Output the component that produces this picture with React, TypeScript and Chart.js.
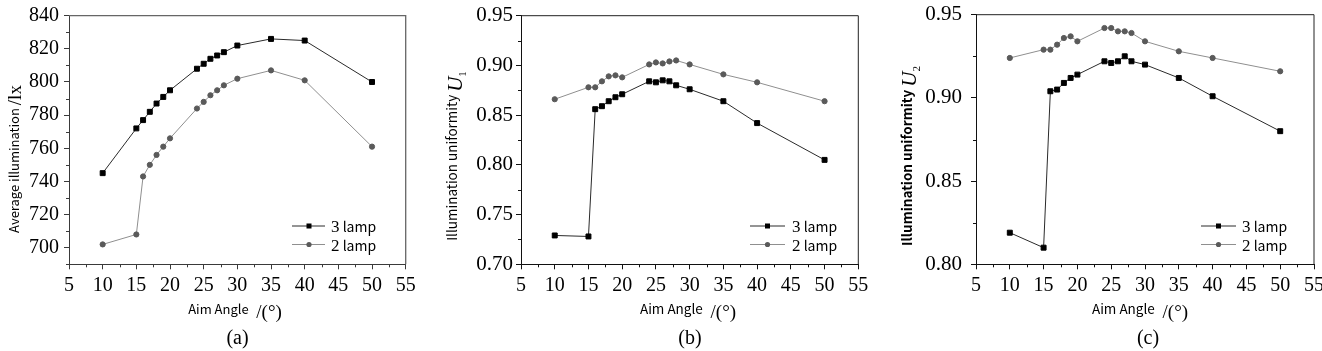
import React, { useEffect, useRef } from 'react';
import { Chart, registerables } from 'chart.js';

Chart.register(...registerables);

// ---------------- data ----------------
const aimAngles = [10, 15, 16, 17, 18, 19, 20, 24, 25, 26, 27, 28, 30, 35, 40, 50];
const avgIllum3Lamp = [745, 772, 777, 782, 787, 791, 795, 808, 811, 814, 816, 818, 822, 826, 825, 800];
const avgIllum2Lamp = [702, 708, 743, 750, 756, 761, 766, 784, 788, 792, 795, 798, 802, 807, 801, 761];
const u1ThreeLamp = [0.729, 0.728, 0.856, 0.859, 0.864, 0.868, 0.871, 0.884, 0.883, 0.885, 0.884, 0.880, 0.876, 0.864, 0.842, 0.805];
const u1TwoLamp = [0.866, 0.878, 0.878, 0.884, 0.889, 0.890, 0.888, 0.901, 0.903, 0.902, 0.904, 0.905, 0.901, 0.891, 0.883, 0.864];
const u2ThreeLamp = [0.819, 0.810, 0.904, 0.905, 0.909, 0.912, 0.914, 0.922, 0.921, 0.922, 0.925, 0.922, 0.920, 0.912, 0.901, 0.880];
const u2TwoLamp = [0.924, 0.929, 0.929, 0.932, 0.936, 0.937, 0.934, 0.942, 0.942, 0.940, 0.940, 0.939, 0.934, 0.928, 0.924, 0.916];

const seriesNumbers = ['3', '2'];
const seriesWord = ' lamp';

const xTicks = [5, 10, 15, 20, 25, 30, 35, 40, 45, 50, 55];
const xMinorTicks = [7.5, 12.5, 17.5, 22.5, 27.5, 32.5, 37.5, 42.5, 47.5, 52.5];
const yTicksA = [700, 720, 740, 760, 780, 800, 820, 840];
const yMinorA = [690, 710, 730, 750, 770, 790, 810, 830];
const yTicksB = [0.7, 0.75, 0.8, 0.85, 0.9, 0.95];
const yMinorB = [0.725, 0.775, 0.825, 0.875, 0.925];
const yTicksC = [0.8, 0.85, 0.9, 0.95];
const yMinorC = [0.825, 0.875, 0.925];

const xTitleText = 'Aim Angle ';
const xTitleUnit = ' /(°)';
const yTitleA = 'Average illumination ';
const yUnitA = '/lx';
const yTitleU = 'Illumination uniformity ';

// ---------------- style ----------------
const H = 351;
const SERIF = '"Liberation Serif", "Times New Roman", serif';
const SANS = '"Noto Sans CJK SC", "Noto Sans", sans-serif';
const LINE3 = '#2a2a2a';
const LINE2 = '#8f8f8f';
const MARK3 = '#000000';
const MARK2 = '#5a5a5a';

type Seg = { t: string; font: string; dy?: number };

function drawSegs(ctx: CanvasRenderingContext2D, segs: Seg[], x: number, y: number, rotate: boolean, align: 'center' | 'left') {
  ctx.save();
  ctx.translate(x, y);
  if (rotate) ctx.rotate(-Math.PI / 2);
  const widths = segs.map((s) => {
    ctx.font = s.font;
    return ctx.measureText(s.t).width;
  });
  const total = widths.reduce((a, b) => a + b, 0);
  let cx = align === 'left' ? 0 : -total / 2;
  ctx.textBaseline = 'alphabetic';
  ctx.textAlign = 'left';
  ctx.fillStyle = '#000';
  segs.forEach((s, i) => {
    ctx.font = s.font;
    ctx.fillText(s.t, cx, s.dy || 0);
    cx += widths[i];
  });
  ctx.restore();
}

const decorPlugin = {
  id: 'decor',
  afterDraw(chart: any, _args: any, o: any) {
    const { ctx, chartArea: a, scales } = chart;
    ctx.save();
    // top & right frame
    ctx.strokeStyle = o.frameColor;
    ctx.lineWidth = o.frameWidth;
    ctx.beginPath();
    ctx.moveTo(a.left, a.top);
    ctx.lineTo(a.right, a.top);
    ctx.lineTo(a.right, a.bottom);
    ctx.stroke();
    // minor ticks
    ctx.lineWidth = 1;
    ctx.strokeStyle = o.axisColor;
    ctx.beginPath();
    o.xMinor.forEach((v: number) => {
      const px = Math.round(scales.x.getPixelForValue(v)) + 0.5;
      ctx.moveTo(px, a.bottom);
      ctx.lineTo(px, a.bottom + 3);
    });
    o.yMinor.forEach((v: number) => {
      const py = Math.round(scales.y.getPixelForValue(v)) + 0.5;
      ctx.moveTo(a.left - 3, py);
      ctx.lineTo(a.left, py);
    });
    ctx.stroke();
    // titles
    drawSegs(ctx, o.yTitle.segs, o.yTitle.x, o.yTitle.y, true, 'center');
    drawSegs(ctx, o.xTitle.segs, o.xTitle.x, o.xTitle.y, false, 'center');
    drawSegs(ctx, [{ t: o.caption.text, font: `20px ${SERIF}` }], o.caption.x, o.caption.y, false, 'center');
    // legend
    const lg = o.legend;
    chart.data.datasets.forEach((ds: any, i: number) => {
      const ry = lg.rows[i];
      ctx.strokeStyle = ds.borderColor;
      ctx.lineWidth = 1;
      ctx.beginPath();
      ctx.moveTo(lg.x0, ry + 0.5);
      ctx.lineTo(lg.x1, ry + 0.5);
      ctx.stroke();
      ctx.fillStyle = ds.pointBackgroundColor;
      if (ds.pointStyle === 'rect') {
        ctx.fillRect(lg.mx - 2.5, ry - 2, 5, 5);
      } else {
        ctx.beginPath();
        ctx.arc(lg.mx, ry + 0.5, 2.6, 0, Math.PI * 2);
        ctx.fill();
      }
      drawSegs(
        ctx,
        [
          { t: seriesNumbers[i], font: `17px ${SERIF}` },
          { t: seriesWord, font: `14px ${SANS}` },
        ],
        lg.tx,
        ry + 6.5,
        false,
        'left'
      );
    });
    ctx.restore();
  },
};

type Spec = {
  left: number;
  width: number;
  plot: { l: number; r: number; t: number; b: number };
  s3: number[];
  s2: number[];
  yMin: number;
  yMax: number;
  yTicks: number[];
  yMinor: number[];
  yDec: number;
  yFont: number;
  yPad: number;
  axisColor: string;
  frameColor: string;
  frameWidth: number;
  yTitle: { segs: Seg[]; x: number; y: number };
  xTitle: { segs: Seg[]; x: number; y: number };
  caption: { text: string; x: number; y: number };
  legend: { x0: number; x1: number; mx: number; tx: number; rows: number[] };
};

const xTitleSegs = (sansSize: number): Seg[] => [
  { t: xTitleText, font: `${sansSize}px ${SANS}` },
  { t: xTitleUnit, font: `19px ${SERIF}`, dy: 3.5 },
];

const specs: Spec[] = [
  {
    left: 0,
    width: 440,
    plot: { l: 69, r: 405.7, t: 15.7, b: 264.3 },
    s3: avgIllum3Lamp,
    s2: avgIllum2Lamp,
    yMin: 690,
    yMax: 840,
    yTicks: yTicksA,
    yMinor: yMinorA,
    yDec: 0,
    yFont: 20,
    yPad: 5,
    axisColor: '#3a3a3a',
    frameColor: '#666',
    frameWidth: 1.3,
    yTitle: {
      segs: [
        { t: yTitleA, font: `13px ${SANS}` },
        { t: yUnitA, font: `19px ${SERIF}`, dy: 2.5 },
      ],
      x: 18.5,
      y: 159,
    },
    xTitle: { segs: xTitleSegs(13), x: 235, y: 314 },
    caption: { text: '(a)', x: 237.5, y: 344 },
    legend: { x0: 292, x1: 325, mx: 309, tx: 331, rows: [225.5, 244] },
  },
  {
    left: 440,
    width: 440,
    plot: { l: 81, r: 418.3, t: 15.7, b: 264.3 },
    s3: u1ThreeLamp,
    s2: u1TwoLamp,
    yMin: 0.7,
    yMax: 0.95,
    yTicks: yTicksB,
    yMinor: yMinorB,
    yDec: 2,
    yFont: 21,
    yPad: 3,
    axisColor: '#111',
    frameColor: '#222',
    frameWidth: 1,
    yTitle: {
      segs: [
        { t: yTitleU, font: `13.5px ${SANS}` },
        { t: 'U', font: `italic 21px ${SERIF}`, dy: 5 },
        { t: '1', font: `11px ${SERIF}`, dy: 9 },
      ],
      x: 16.7,
      y: 156,
    },
    xTitle: { segs: xTitleSegs(13.5), x: 248, y: 314 },
    caption: { text: '(b)', x: 250, y: 344 },
    legend: { x0: 310, x1: 345, mx: 327.5, tx: 352, rows: [225.5, 244] },
  },
  {
    left: 880,
    width: 442,
    plot: { l: 96, r: 434, t: 14.7, b: 264.3 },
    s3: u2ThreeLamp,
    s2: u2TwoLamp,
    yMin: 0.8,
    yMax: 0.95,
    yTicks: yTicksC,
    yMinor: yMinorC,
    yDec: 2,
    yFont: 21,
    yPad: 9,
    axisColor: '#111',
    frameColor: '#222',
    frameWidth: 1,
    yTitle: {
      segs: [
        { t: yTitleU, font: `600 13.5px ${SANS}` },
        { t: 'U', font: `italic 21px ${SERIF}`, dy: 4 },
        { t: '2', font: `11px ${SERIF}`, dy: 8 },
      ],
      x: 32.3,
      y: 156,
    },
    xTitle: { segs: xTitleSegs(13.5), x: 260, y: 314 },
    caption: { text: '(c)', x: 268, y: 344 },
    legend: { x0: 321, x1: 356, mx: 338.5, tx: 362, rows: [225.5, 244] },
  },
];

const Y_AXIS_W = 60;
const X_AXIS_H = 40;

function buildConfig(s: Spec): any {
  return {
    type: 'line',
    data: {
      datasets: [
        {
          label: seriesNumbers[0] + seriesWord,
          data: aimAngles.map((x, i) => ({ x, y: s.s3[i] })),
          borderColor: LINE3,
          borderWidth: 1,
          pointStyle: 'rect',
          pointRadius: 3.5,
          pointBackgroundColor: MARK3,
          pointBorderColor: MARK3,
          pointBorderWidth: 1,
          tension: 0,
        },
        {
          label: seriesNumbers[1] + seriesWord,
          data: aimAngles.map((x, i) => ({ x, y: s.s2[i] })),
          borderColor: LINE2,
          borderWidth: 1,
          pointStyle: 'circle',
          pointRadius: 2.6,
          pointBackgroundColor: MARK2,
          pointBorderColor: MARK2,
          pointBorderWidth: 1,
          tension: 0,
        },
      ],
    },
    options: {
      responsive: false,
      animation: false,
      devicePixelRatio: 1,
      events: [],
      layout: {
        autoPadding: false,
        padding: {
          left: s.plot.l - Y_AXIS_W,
          right: s.width - s.plot.r,
          top: s.plot.t,
          bottom: H - s.plot.b - X_AXIS_H,
        },
      },
      plugins: {
        legend: { display: false },
        tooltip: { enabled: false },
        decor: {
          xMinor: xMinorTicks,
          yMinor: s.yMinor,
          axisColor: s.axisColor,
          frameColor: s.frameColor,
          frameWidth: s.frameWidth,
          yTitle: s.yTitle,
          xTitle: s.xTitle,
          caption: s.caption,
          legend: s.legend,
        },
      },
      scales: {
        x: {
          type: 'linear',
          min: 5,
          max: 55,
          afterBuildTicks: (sc: any) => {
            sc.ticks = xTicks.map((v) => ({ value: v }));
          },
          afterFit: (sc: any) => {
            sc.height = X_AXIS_H;
            sc.paddingLeft = 0;
            sc.paddingRight = 0;
          },
          ticks: {
            font: { family: SERIF, size: 20 },
            color: '#000',
            padding: 4,
            maxRotation: 0,
            autoSkip: false,
            callback: (v: any) => String(v),
          },
          grid: { drawOnChartArea: false, drawTicks: true, tickLength: 5, color: s.axisColor, lineWidth: 1 },
          border: { display: true, color: s.axisColor, width: 1 },
        },
        y: {
          type: 'linear',
          min: s.yMin,
          max: s.yMax,
          afterBuildTicks: (sc: any) => {
            sc.ticks = s.yTicks.map((v) => ({ value: v }));
          },
          afterFit: (sc: any) => {
            sc.width = Y_AXIS_W;
            sc.paddingTop = 0;
            sc.paddingBottom = 0;
          },
          ticks: {
            font: { family: SERIF, size: s.yFont },
            color: '#000',
            padding: s.yPad,
            autoSkip: false,
            callback: (v: any) => Number(v).toFixed(s.yDec),
          },
          grid: { drawOnChartArea: false, drawTicks: true, tickLength: 5, color: s.axisColor, lineWidth: 1 },
          border: { display: true, color: s.axisColor, width: 1 },
        },
      },
    },
    plugins: [decorPlugin],
  };
}

function Panel({ spec }: { spec: Spec }) {
  const ref = useRef<HTMLCanvasElement | null>(null);
  useEffect(() => {
    if (!ref.current) return;
    const chart = new Chart(ref.current, buildConfig(spec));
    return () => chart.destroy();
  }, [spec]);
  return (
    <canvas
      ref={ref}
      width={spec.width}
      height={H}
      style={{ position: 'absolute', left: spec.left, top: 0, width: spec.width, height: H }}
    />
  );
}

export default function App() {
  return (
    <div style={{ position: 'absolute', left: 0, top: 0, width: 1322, height: H, background: '#fff', overflow: 'hidden' }}>
      {specs.map((s, i) => (
        <Panel key={i} spec={s} />
      ))}
    </div>
  );
}
